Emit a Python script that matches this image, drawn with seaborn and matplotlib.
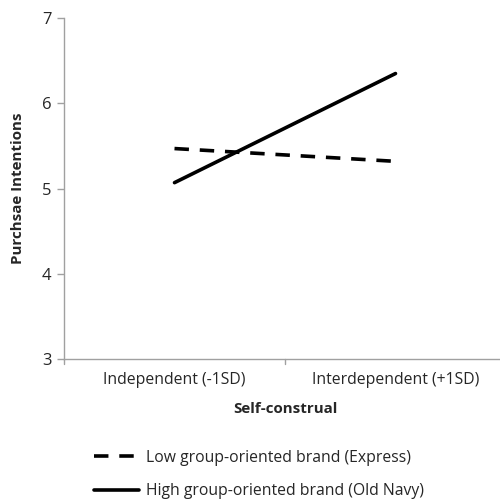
import pandas as pd
import matplotlib.pyplot as plt
import seaborn as sns

categories = ['Independent (-1SD)', 'Interdependent (+1SD)']
low_group = [5.47, 5.32]
high_group = [5.07, 6.35]
series_names = ['Low group-oriented brand (Express)', 'High group-oriented brand (Old Navy)']

df = pd.DataFrame({
    'Self-construal': categories * 2,
    'Purchsae Intentions': low_group + high_group,
    'Brand': [series_names[0]] * 2 + [series_names[1]] * 2,
})

sns.set_style('white')
plt.rcParams['font.family'] = ['Open Sans', 'DejaVu Sans']

fig = plt.figure(figsize=(5, 5.03), dpi=100)
ax = fig.add_axes([0.128, 0.286, 0.884, 0.678])

dash = (4.0, 3.0)
sns.lineplot(data=df, x='Self-construal', y='Purchsae Intentions', style='Brand',
             dashes={series_names[0]: dash, series_names[1]: ''},
             color='black', linewidth=2.6, ax=ax, legend=False)

ax.set_xlim(-0.5, 1.5)
ax.set_ylim(3, 7)
ax.set_yticks([3, 4, 5, 6, 7])
ax.set_xticks([0, 1])
ax.set_xticklabels(categories)
ax.tick_params(axis='x', length=0, labelsize=11.3, colors='#262626', pad=9)
ax.tick_params(axis='y', length=5, width=1, color='#a0a0a0', labelsize=12,
               labelcolor='#262626', pad=4, left=True)
for x in [-0.5, 0.5, 1.5]:
    ax.plot([x, x], [3, 3 - 0.06], color='#a0a0a0', lw=1, clip_on=False)

for s in ['top', 'right']:
    ax.spines[s].set_visible(False)
for s in ['left', 'bottom']:
    ax.spines[s].set_color('#a0a0a0')
    ax.spines[s].set_linewidth(1)

ax.set_xlabel('Self-construal', fontsize=10.9, fontweight='bold', labelpad=10)
ax.set_ylabel('Purchsae Intentions', fontsize=10.9, fontweight='bold', labelpad=12)

h1, = plt.plot([], [], color='black', lw=2.6, dashes=dash)
h2, = plt.plot([], [], color='black', lw=2.6)
fig.legend([h1, h2], series_names, loc='upper left', bbox_to_anchor=(0.175, 0.118),
           frameon=False, fontsize=11.3, handlelength=2.9, handletextpad=0.45,
           labelspacing=1.1, borderaxespad=0, labelcolor='#262626')

fig.savefig('out.png', dpi=100)
